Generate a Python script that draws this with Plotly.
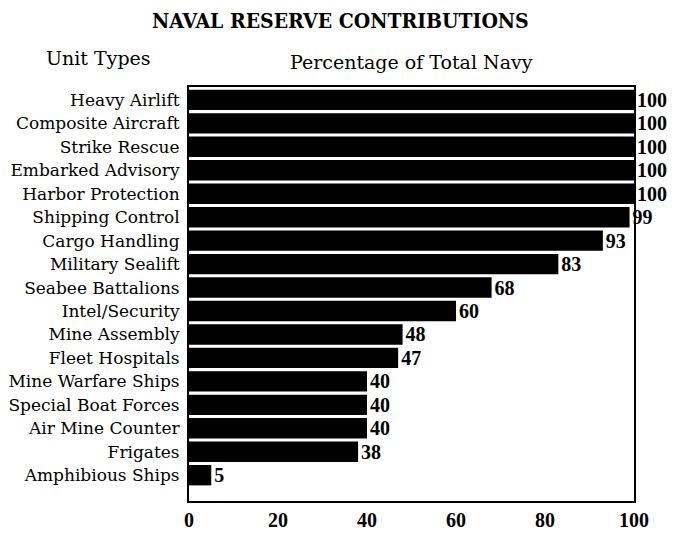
import plotly.graph_objects as go

categories = ["Heavy Airlift", "Composite Aircraft", "Strike Rescue", "Embarked Advisory",
              "Harbor Protection", "Shipping Control", "Cargo Handling", "Military Sealift",
              "Seabee Battalions", "Intel/Security", "Mine Assembly", "Fleet Hospitals",
              "Mine Warfare Ships", "Special Boat Forces", "Air Mine Counter", "Frigates",
              "Amphibious Ships"]
values = [100, 100, 100, 100, 100, 99, 93, 83, 68, 60, 48, 47, 40, 40, 40, 38, 5]
x_ticks = [0, 20, 40, 60, 80, 100]

fig = go.Figure()
fig.add_trace(go.Bar(
    y=categories, x=values, orientation="h",
    marker=dict(color="black", line=dict(width=0)),
    width=0.87,
    text=[str(v) for v in values], textposition="outside",
    textfont=dict(family="Liberation Serif", size=20, color="black", weight="bold"),
    cliponaxis=False, constraintext="none",
))

# page body has an 8px margin, so the figure is drawn 8px right/down
OFF = 8
W, H = 681 - OFF, 533 - OFF
L, T = 189 - OFF, 87 - OFF
pw, ph = 445, 414
R, B = W - L - pw, H - T - ph

def px_x(px):
    return (px - OFF - L) / pw

def px_y(py):
    return (H - B - (py - OFF)) / ph

fig.update_layout(
    width=W, height=H,
    margin=dict(l=L, r=R, t=T, b=B, autoexpand=False),
    paper_bgcolor="white", plot_bgcolor="white",
    showlegend=False,
    xaxis=dict(range=[0, 100], tickvals=x_ticks, ticktext=[str(t) for t in x_ticks],
               showgrid=False, zeroline=False, showline=True, mirror=True,
               linecolor="black", linewidth=2, ticks="", ticklabelstandoff=0,
               automargin=False,
               tickfont=dict(family="Liberation Serif", size=20, color="black", weight="bold")),
    yaxis=dict(categoryorder="array", categoryarray=categories, range=[17.1, -0.55],
               showgrid=False, zeroline=False, showline=True, mirror=True,
               linecolor="black", linewidth=2, ticks="", ticklabelstandoff=4,
               automargin=False,
               tickfont=dict(family="DejaVu Serif", size=17, color="black")),
    annotations=[
        dict(text="<b>NAVAL RESERVE CONTRIBUTIONS</b>", x=px_x(340), y=px_y(21),
             xref="paper", yref="paper", showarrow=False, xanchor="center", yanchor="middle",
             font=dict(family="DejaVu Serif Condensed, Liberation Serif", size=21, color="black")),
        dict(text="Unit Types", x=px_x(98), y=px_y(58), xref="paper", yref="paper",
             showarrow=False, xanchor="center", yanchor="middle",
             font=dict(family="DejaVu Serif", size=19, color="black")),
        dict(text="Percentage of Total Navy", x=px_x(411), y=px_y(62), xref="paper", yref="paper",
             showarrow=False, xanchor="center", yanchor="middle",
             font=dict(family="DejaVu Serif", size=19, color="black")),
    ],
)

fig.write_html("out.html")
